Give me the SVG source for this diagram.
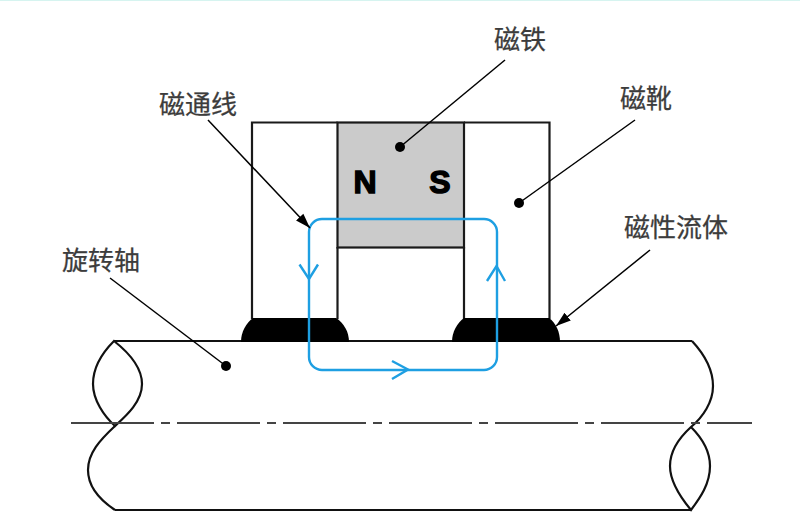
<svg xmlns="http://www.w3.org/2000/svg" width="800" height="531" viewBox="0 0 800 531">
<style>
.lbl{font-family:"Noto Sans CJK SC","Noto Sans",sans-serif;font-size:26px;fill:#3c3c3c;stroke:#3c3c3c;stroke-width:.25;text-anchor:middle}
.pole{font-family:"Liberation Sans",Arial,sans-serif;font-size:32px;font-weight:bold;fill:#000;stroke:#000;stroke-width:1.400;text-anchor:middle}
.ol{fill:none;stroke:#1a1a1a;stroke-width:2.200}
.core{fill:#cbcbcb;stroke:#1a1a1a;stroke-width:2.200}
.shaft{fill:none;stroke:#111;stroke-width:2.200}
.lead{fill:none;stroke:#000;stroke-width:1.500}
.flux{fill:none;stroke:#1e9fe2;stroke-width:2.400}
</style>
<defs>
<marker id="arr" markerUnits="userSpaceOnUse" markerWidth="16" markerHeight="12" refX="15" refY="5" orient="auto" viewBox="0 0 16 10"><path d="M0 0L15 5L0 10Z" fill="#000"/></marker>
</defs>
<rect width="800" height="531" fill="#fff"/>
<rect width="800" height="1" fill="#d6f4f0"/>
<g id="rotating-shaft">
<path class="shaft" d="M114 341H692M115 510H691"/>
<path class="shaft" d="M114 341C100 355 93 368 93 384C93 400 104 416 115 426C126 416 142 402 142 384C142 366 128 352 114 341Z"/>
<path class="shaft" d="M115 426C100 440 88 453 88 470C88 487 100 500 115 510"/>
<path class="shaft" d="M692 341C705 355 713 370 713 386C713 402 703 417 691 427C680 437 670 450 670 466C670 482 681 498 691 510C700 498 710 484 710 466C710 450 701 437 691 427"/>
<line x1="71" y1="423" x2="752" y2="423" stroke="#444" stroke-width="2" stroke-dasharray="83 7 9 7"/>
</g>
<g id="magnet">
<rect class="core" x="337.500" y="122.500" width="126.500" height="125"/>
<text class="pole" x="365" y="193">N</text>
<text class="pole" x="440" y="193">S</text>
</g>
<g id="left-pole-shoe"><path class="ol" d="M252 319V122.500H337.500M337.500 247V319"/></g>
<g id="right-pole-shoe"><path class="ol" d="M464 247V319M464 122.500H549.500V319"/></g>
<g id="ferrofluid">
<path d="M241 342C241 332 246 323 253 318H336C344 323 349 332 349 342Z" fill="#000"/>
<path d="M452 342C452 332 457 323 464 318H549C556 323 560 332 560 342Z" fill="#000"/>
</g>
<g id="flux-loop">
<rect class="flux" x="309" y="219" width="188" height="151" rx="13" ry="13"/>
<path class="flux" d="M299.500 264.500L309 279L318 264.500M487 281L496.500 266L505 281M392 361L408 369.500L392 379"/>
</g>
<g id="connectors">
<path class="lead" d="M400 147L505 60"/>
<circle cx="400" cy="147" r="5"/>
<path class="lead" d="M519 203L635 120"/>
<circle cx="519" cy="203" r="5"/>
<path class="lead" d="M226 366L110 278"/>
<circle cx="226" cy="366" r="5"/>
<path class="lead" d="M208 120L310 228" marker-end="url(#arr)"/>
<path class="lead" d="M650 250L556 326" marker-end="url(#arr)"/>
</g>
<g id="label-magnet"><text class="lbl" x="520" y="49">磁铁</text></g>
<g id="label-flux"><text class="lbl" x="198" y="114">磁通线</text></g>
<g id="label-shoe"><text class="lbl" x="646" y="108">磁靴</text></g>
<g id="label-fluid"><text class="lbl" x="676" y="237">磁性流体</text></g>
<g id="label-shaft"><text class="lbl" x="101" y="270">旋转轴</text></g>
</svg>
